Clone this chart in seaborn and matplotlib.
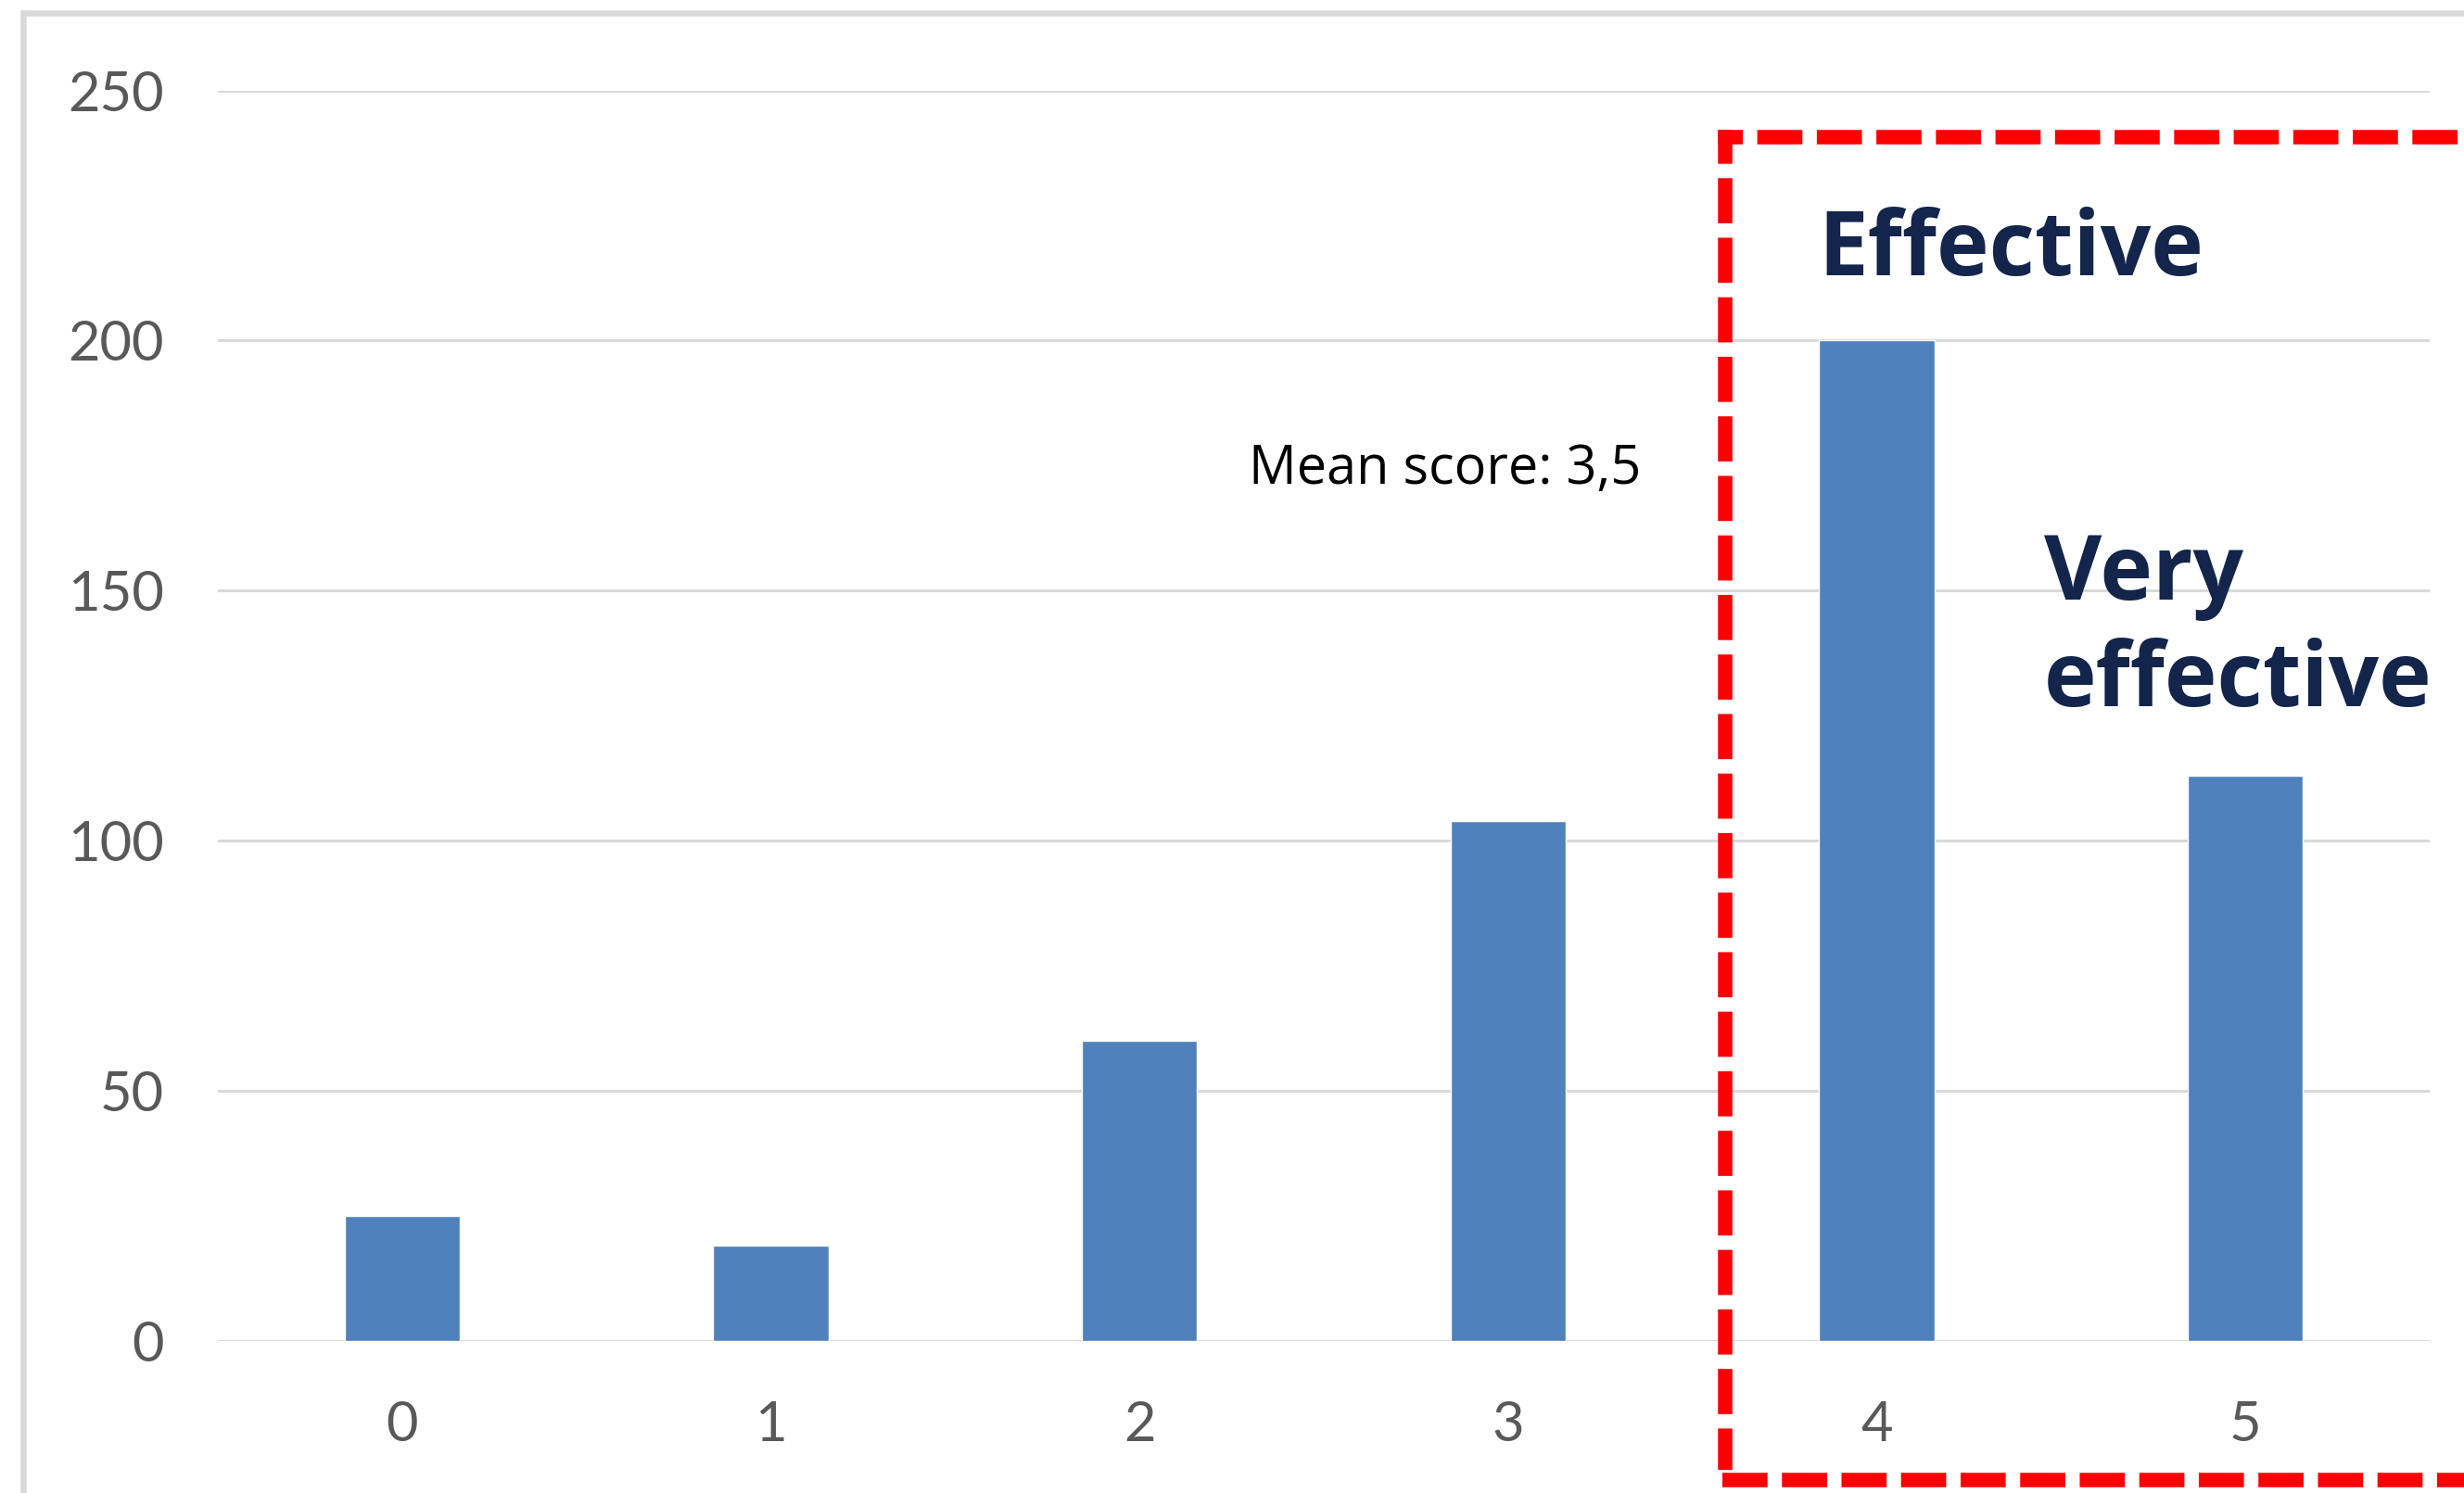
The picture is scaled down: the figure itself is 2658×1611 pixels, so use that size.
import matplotlib
matplotlib.use("Agg")
import matplotlib.pyplot as plt
from matplotlib.lines import Line2D
import seaborn as sns
import pandas as pd

# Survey results: number of respondents per effectiveness score
scores = ["0", "1", "2", "3", "4", "5"]
counts = [25, 19, 60, 104, 200, 113]
y_ticks = [0, 50, 100, 150, 200, 250]

mean_label = "Mean score: 3,5"
label_effective = "Effective"
label_very = ["Very", "effective"]

W, H = 2658, 1611
DPI = 100

sns.set_theme(style="white")
plt.rcParams["font.family"] = ["Lato", "DejaVu Sans"]

fig = plt.figure(figsize=(W / DPI, H / DPI), dpi=DPI)
fig.patch.set_facecolor("white")


def fx(px):
    return px / W


def fy(py):
    return 1 - py / H


ax = fig.add_axes([fx(235), fy(1447), fx(2621) - fx(235), fy(97.5) - fy(1447)])

df = pd.DataFrame({"score": scores, "count": counts})
sns.barplot(data=df, x="score", y="count", order=scores, color="#4F81BD",
            saturation=1, width=0.313, ax=ax, zorder=3)

ax.set_xlim(-0.5, len(scores) - 0.5)
ax.set_ylim(0, 250)
ax.set_yticks(y_ticks)
ax.set_yticklabels([str(t) for t in y_ticks])
ax.set_xlabel("")
ax.set_ylabel("")
ax.set_axisbelow(True)
ax.yaxis.grid(True, color="#D9D9D9", linewidth=2.2)
ax.xaxis.grid(False)
for s in ax.spines.values():
    s.set_visible(False)
ax.tick_params(axis="y", length=0, pad=42, labelsize=43, labelcolor="#595959")
ax.tick_params(axis="x", length=0, pad=46, labelsize=43, labelcolor="#595959")
ax.patch.set_alpha(0)

# Outer chart frame (top and left edges)
fig.add_artist(Line2D([fx(24.5), fx(24.5), fx(W + 20)], [fy(H + 20), fy(14), fy(14)],
                      transform=fig.transFigure, color="#D9D9D9", linewidth=4.7,
                      solid_joinstyle="miter"))

# Dashed highlight around the top two scores
red_lw = 11.2
fig.add_artist(Line2D([fx(1853), fx(W + 40)], [fy(148), fy(148)],
                      transform=fig.transFigure, color="#FF0000", linewidth=red_lw,
                      linestyle=(1.39, (3.13, 1.0))))
fig.add_artist(Line2D([fx(1861), fx(1861)], [fy(140), fy(1586)],
                      transform=fig.transFigure, color="#FF0000", linewidth=red_lw,
                      linestyle=(0.77, (3.13, 1.0))))
fig.add_artist(Line2D([fx(1858), fx(W + 40)], [fy(1597), fy(1597)],
                      transform=fig.transFigure, color="#FF0000", linewidth=red_lw,
                      linestyle=(0, (3.13, 1.0))))

# Annotations
note_font = ["Open Sans", "DejaVu Sans"]
fig.text(fx(1347), fy(522), mean_label, fontsize=41.5, color="black",
         family=note_font, ha="left", va="baseline")
navy = "#13254B"
fig.text(fx(1961), fy(297), label_effective, fontsize=69, fontweight="bold",
         family=note_font, color=navy, ha="left", va="baseline")
fig.text(fx(2205), fy(647), label_very[0], fontsize=69, fontweight="bold",
         family=note_font, color=navy, ha="left", va="baseline")
fig.text(fx(2205), fy(762), label_very[1], fontsize=69, fontweight="bold",
         family=note_font, color=navy, ha="left", va="baseline")

fig.savefig("out.png", dpi=DPI, facecolor="white")
